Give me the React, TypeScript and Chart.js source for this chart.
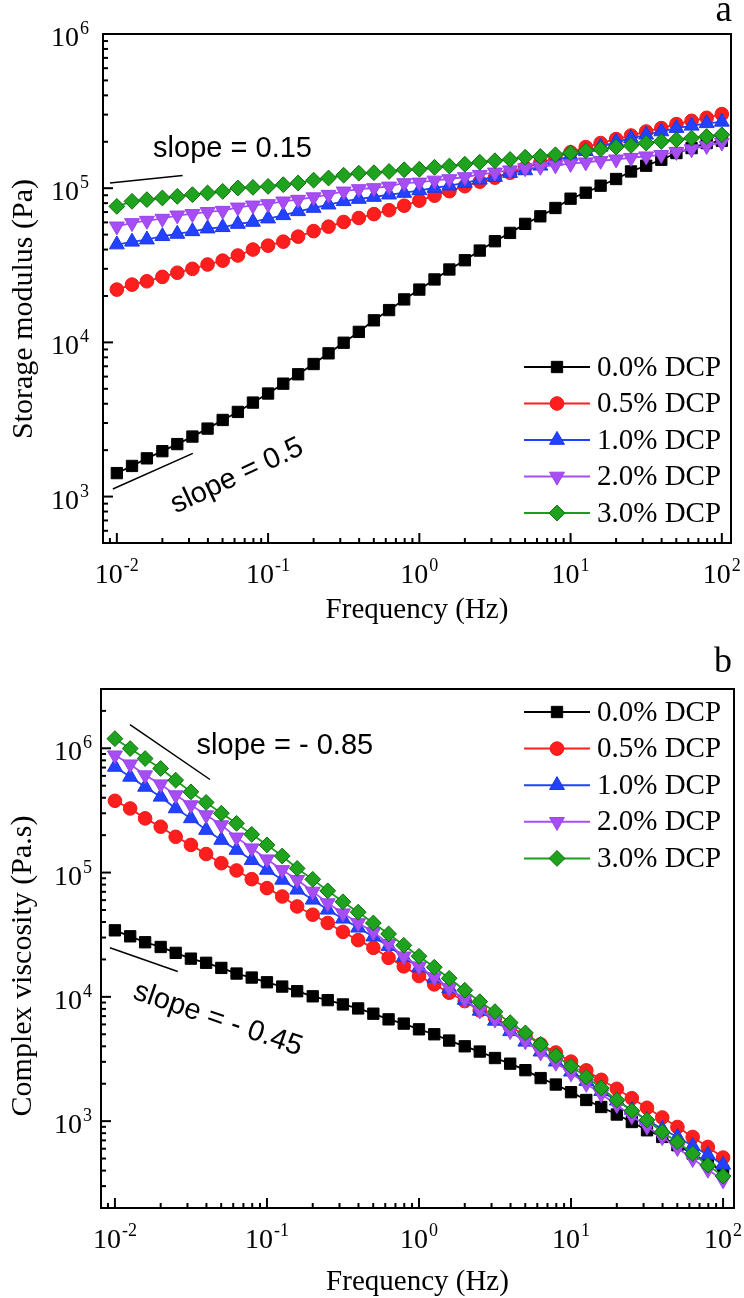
import { useEffect, useRef } from 'react';
import { Chart, registerables, ChartConfiguration, Plugin } from 'chart.js';
import { drawPoint } from 'chart.js/helpers';

Chart.register(...registerables);

// frequency sweep, Hz (10 points per decade)
const frequency = [
  0.01, 0.0126, 0.0158, 0.02, 0.0251, 0.0316, 0.0398, 0.0501, 0.0631, 0.0794,
  0.1, 0.126, 0.158, 0.2, 0.251, 0.316, 0.398, 0.501, 0.631, 0.794,
  1, 1.26, 1.58, 2, 2.51, 3.16, 3.98, 5.01, 6.31, 7.94,
  10, 12.6, 15.8, 20, 25.1, 31.6, 39.8, 50.1, 63.1, 79.4, 100,
];

const seriesLabels = ['0.0% DCP', '0.5% DCP', '1.0% DCP', '2.0% DCP', '3.0% DCP'];

// (a) storage modulus, Pa
const storage00 = [1420, 1580, 1770, 1970, 2190, 2450, 2760, 3140, 3540, 4070, 4660, 5400, 6210, 7240, 8490, 9950, 11700, 13900, 16200, 19000, 22000, 25600, 29700, 34100, 39400, 45300, 51300, 58700, 65700, 74400, 85500, 93500, 103800, 114700, 128400, 139900, 152900, 169000, 182000, 196200, 203000];
const storage05 = [22000, 23700, 24900, 26600, 28300, 30000, 32000, 33900, 36600, 40000, 42400, 45000, 48500, 52700, 56300, 60400, 64100, 67900, 72000, 77000, 83000, 89400, 95600, 103000, 110200, 117000, 126000, 135700, 146200, 157600, 171000, 184800, 196200, 208200, 219600, 233200, 245300, 260300, 273500, 286000, 302200];
const storage10 = [43100, 44900, 46400, 48800, 50500, 52500, 54700, 55800, 58600, 60400, 63500, 66700, 70800, 74400, 78200, 82200, 85100, 87700, 90800, 93100, 96800, 100300, 103800, 108100, 113500, 118200, 125400, 130400, 139800, 150700, 162300, 173500, 185600, 200000, 210700, 222000, 233200, 245300, 253800, 263500, 269400];
const storage20 = [56600, 59500, 61600, 63500, 66700, 68100, 70200, 71500, 75100, 77400, 79000, 82200, 84300, 87500, 90800, 95400, 98800, 100300, 102700, 108100, 109000, 112300, 114700, 118200, 122300, 126600, 130800, 135100, 137800, 140900, 144100, 147300, 150700, 154000, 157600, 161100, 164700, 172200, 179300, 188400, 197900];
const storage30 = [76200, 82200, 84300, 86400, 88500, 90800, 93100, 95400, 100300, 101200, 102700, 105400, 108100, 112700, 116400, 121400, 125100, 126000, 128400, 131700, 132700, 136700, 139200, 143000, 147300, 150700, 153600, 158700, 160600, 164700, 169700, 174800, 179300, 184800, 189300, 196200, 200900, 206100, 211300, 216400, 222000];

// (b) complex viscosity, Pa.s
const viscosity00 = [34300, 30700, 27500, 25200, 22600, 20300, 18800, 17100, 15400, 14300, 13100, 12100, 11100, 10100, 9410, 8690, 8070, 7320, 6590, 6090, 5480, 5000, 4450, 4000, 3630, 3220, 2900, 2570, 2220, 1970, 1710, 1480, 1300, 1130, 984, 844, 746, 640, 548, 461, 398];
const viscosity05 = [378000, 328000, 273000, 234000, 194000, 167000, 141000, 119000, 104000, 88500, 75000, 64200, 53400, 45800, 39300, 33300, 28600, 24800, 20600, 17600, 14700, 12600, 10800, 9240, 7780, 6800, 5720, 4930, 4150, 3570, 3010, 2560, 2150, 1820, 1530, 1280, 1070, 897, 746, 620, 509];
const viscosity10 = [708000, 589000, 489000, 407000, 328000, 273000, 220000, 183000, 152000, 126000, 105000, 87400, 72700, 60400, 50200, 42500, 36000, 30500, 25600, 20900, 17200, 14200, 11700, 9440, 7710, 6410, 5280, 4350, 3620, 3010, 2500, 2100, 1740, 1460, 1230, 1020, 864, 746, 631, 535, 445];
const viscosity20 = [879000, 744000, 608000, 514000, 420000, 349000, 290000, 241000, 192000, 157000, 128000, 105000, 87400, 70400, 56800, 47100, 39300, 33300, 26700, 21200, 17600, 14400, 11800, 9530, 7780, 6590, 5310, 4410, 3580, 2960, 2430, 2000, 1650, 1350, 1100, 905, 746, 609, 497, 408, 335];
const viscosity30 = [1196000, 995000, 827000, 688000, 554000, 446000, 367000, 300000, 249000, 203000, 167000, 136000, 108000, 88200, 71300, 58200, 48000, 39300, 32100, 26000, 21200, 17300, 14100, 11300, 9140, 7600, 6200, 5130, 4150, 3360, 2770, 2260, 1850, 1480, 1210, 1020, 818, 680, 548, 442, 361];

// slope guide lines: [frequency, value] end points, label centre, label angle (deg)
const storageSlopeLow = { from: [0.009, 108000], to: [0.0272, 121000], text: 'slope = 0.15', at: [0.0582, 180000], angle: 0 };
const storageSlopeHigh = { from: [0.00941, 1120], to: [0.0318, 1905], text: 'slope = 0.5', at: [0.0624, 1358], angle: -25 };
const viscositySlopeHigh = { from: [0.01256, 1550000], to: [0.0422, 561000], text: 'slope = - 0.85', at: [0.1312, 1047000], angle: 0 };
const viscositySlopeLow = { from: [0.00927, 24800], to: [0.0259, 16000], text: 'slope = - 0.45', at: [0.0476, 6590], angle: 19 };

const SERIF = '"Liberation Serif", "Times New Roman", serif';
const SANS = '"Liberation Sans", Arial, sans-serif';
const WIDTH = 744;

const lineColors = ['#000000', '#ff1e1e', '#2242ff', '#a64ef4', '#1b9e1b'];
const fillColors = ['#000000', '#ff1e1e', '#2242ff', '#a64ef4', '#1fa31f'];
const edgeColors = ['#000000', '#f01818', '#1a36e6', '#9a44ea', '#0d6e0d'];
const pointStyles = ['rect', 'circle', 'triangle', 'triangle', 'rectRot'];
const pointRotations = [0, 0, 0, 180, 0];
const pointRadii = [8, 6.8, 8.6, 8.6, 7.9];

interface SlopeNote {
  from: number[];
  to: number[];
  text: string;
  at: number[];
  angle: number;
}

interface PanelSpec {
  height: number;
  area: { left: number; top: number; right: number; bottom: number };
  xRange: [number, number];
  yRange: [number, number];
  series: number[][];
  xTitleBaseline: number;
  yTitle: string;
  yTitleX: number;
  yTitleY: number;
  yLabelGap: number;
  letter: string;
  letterBaseline: number;
  letterSize: number;
  legendTop: number;
  legendStep: number;
  notes: SlopeNote[];
}

const storagePanel: PanelSpec = {
  height: 640,
  area: { left: 103, top: 34, right: 731, bottom: 543 },
  xRange: [0.0081, 115],
  yRange: [500, 1e6],
  series: [storage00, storage05, storage10, storage20, storage30],
  xTitleBaseline: 618,
  yTitle: 'Storage modulus (Pa)',
  yTitleX: 32,
  yTitleY: 309,
  yLabelGap: 14,
  letter: 'a',
  letterBaseline: 21,
  letterSize: 37,
  legendTop: 367,
  legendStep: 36.5,
  notes: [storageSlopeLow, storageSlopeHigh],
};

const viscosityPanel: PanelSpec = {
  height: 658,
  area: { left: 101, top: 49, right: 734, bottom: 568 },
  xRange: [0.0081, 118],
  yRange: [200, 3e6],
  series: [viscosity00, viscosity05, viscosity10, viscosity20, viscosity30],
  xTitleBaseline: 650,
  yTitle: 'Complex viscosity (Pa.s)',
  yTitleX: 31,
  yTitleY: 326,
  yLabelGap: 9,
  letter: 'b',
  letterBaseline: 32,
  letterSize: 36,
  legendTop: 72,
  legendStep: 36.6,
  notes: [viscositySlopeHigh, viscositySlopeLow],
};

const logTicks = (min: number, max: number) => {
  const out: { v: number; major: boolean; exp: number }[] = [];
  for (let e = Math.floor(Math.log10(min)); e <= Math.ceil(Math.log10(max)); e++) {
    for (let m = 1; m < 10; m++) {
      const v = m * Math.pow(10, e);
      if (v >= min * 0.999 && v <= max * 1.001) out.push({ v, major: m === 1, exp: e });
    }
  }
  return out;
};

// "10" with a raised exponent
const drawPower = (ctx: CanvasRenderingContext2D, exp: number, x: number, baseline: number, align: 'center' | 'right') => {
  const sup = String(exp);
  ctx.font = `28px ${SERIF}`;
  const w1 = ctx.measureText('10').width;
  ctx.font = `18px ${SERIF}`;
  const w2 = ctx.measureText(sup).width;
  const total = w1 + w2 + 1;
  const left = align === 'center' ? x - total / 2 : x - total;
  ctx.textAlign = 'left';
  ctx.textBaseline = 'alphabetic';
  ctx.font = `28px ${SERIF}`;
  ctx.fillText('10', left, baseline);
  ctx.font = `18px ${SERIF}`;
  ctx.fillText(sup, left + w1 + 1, baseline - 12);
};

const decorPlugin = (spec: PanelSpec): Plugin<'line'> => ({
  id: 'decor',
  beforeDraw: (chart) => {
    const { ctx, width, height } = chart;
    ctx.save();
    ctx.fillStyle = '#ffffff';
    ctx.fillRect(0, 0, width, height);
    ctx.restore();
  },
  afterDraw: (chart) => {
    const { ctx, chartArea: a } = chart;
    const xs = chart.scales.x;
    const ys = chart.scales.y;
    ctx.save();
    ctx.strokeStyle = '#000';
    ctx.fillStyle = '#000';

    // frame
    ctx.lineWidth = 2;
    ctx.strokeRect(a.left, a.top, a.right - a.left, a.bottom - a.top);

    // inward ticks + labels
    ctx.lineWidth = 2;
    for (const t of logTicks(spec.xRange[0], spec.xRange[1])) {
      const px = xs.getPixelForValue(t.v);
      ctx.beginPath();
      ctx.moveTo(px, a.bottom);
      ctx.lineTo(px, a.bottom - (t.major ? 10 : 5));
      ctx.stroke();
      if (t.major) drawPower(ctx, t.exp, px, a.bottom + 40, 'center');
    }
    for (const t of logTicks(spec.yRange[0], spec.yRange[1])) {
      const py = ys.getPixelForValue(t.v);
      ctx.beginPath();
      ctx.moveTo(a.left, py);
      ctx.lineTo(a.left + (t.major ? 10 : 5), py);
      ctx.stroke();
      if (t.major) drawPower(ctx, t.exp, a.left - spec.yLabelGap, py + 12, 'right');
    }

    // axis titles
    ctx.font = `29px ${SERIF}`;
    ctx.textAlign = 'center';
    ctx.textBaseline = 'alphabetic';
    ctx.fillText('Frequency (Hz)', (a.left + a.right) / 2, spec.xTitleBaseline);
    ctx.save();
    ctx.translate(spec.yTitleX, spec.yTitleY);
    ctx.rotate(-Math.PI / 2);
    ctx.font = `30px ${SERIF}`;
    ctx.fillText(spec.yTitle, 0, 0);
    ctx.restore();

    // panel letter
    ctx.font = `${spec.letterSize}px ${SERIF}`;
    ctx.textAlign = 'right';
    ctx.fillText(spec.letter, 732, spec.letterBaseline);

    // slope guides
    for (const n of spec.notes) {
      ctx.lineWidth = 1.5;
      ctx.beginPath();
      ctx.moveTo(xs.getPixelForValue(n.from[0]), ys.getPixelForValue(n.from[1]));
      ctx.lineTo(xs.getPixelForValue(n.to[0]), ys.getPixelForValue(n.to[1]));
      ctx.stroke();
      ctx.save();
      ctx.translate(xs.getPixelForValue(n.at[0]), ys.getPixelForValue(n.at[1]));
      ctx.rotate((n.angle * Math.PI) / 180);
      ctx.font = `29px ${SANS}`;
      ctx.textAlign = 'center';
      ctx.textBaseline = 'middle';
      ctx.fillText(n.text, 0, 0);
      ctx.restore();
    }

    // legend
    chart.data.datasets.forEach((_, k) => {
      const y = spec.legendTop + k * spec.legendStep;
      ctx.strokeStyle = lineColors[k];
      ctx.lineWidth = 2;
      ctx.beginPath();
      ctx.moveTo(524, y);
      ctx.lineTo(590, y);
      ctx.stroke();
      ctx.fillStyle = fillColors[k];
      ctx.strokeStyle = edgeColors[k];
      ctx.lineWidth = 1;
      drawPoint(ctx, { pointStyle: pointStyles[k], radius: pointRadii[k], rotation: pointRotations[k], borderWidth: 1 } as any, 557, y);
      ctx.fillStyle = '#000';
      ctx.font = `29px ${SERIF}`;
      ctx.textAlign = 'left';
      ctx.textBaseline = 'middle';
      ctx.fillText(seriesLabels[k], 597, y + 1);
    });

    ctx.restore();
  },
});

const getChartConfig = (spec: PanelSpec): ChartConfiguration<'line'> => ({
  type: 'line',
  data: {
    datasets: spec.series.map((values, k) => ({
      label: seriesLabels[k],
      data: frequency.map((f, i) => ({ x: f, y: values[i] })),
      borderColor: lineColors[k],
      backgroundColor: fillColors[k],
      borderWidth: 1.8,
      tension: 0,
      fill: false,
      pointStyle: pointStyles[k] as any,
      pointRotation: pointRotations[k],
      pointRadius: pointRadii[k],
      pointBackgroundColor: fillColors[k],
      pointBorderColor: edgeColors[k],
      pointBorderWidth: 1,
      order: 5 - k,
    })),
  },
  options: {
    responsive: false,
    animation: false,
    events: [],
    layout: {
      autoPadding: false,
      padding: { left: 0, top: spec.area.top, right: WIDTH - spec.area.right, bottom: 0 },
    },
    plugins: { legend: { display: false }, tooltip: { enabled: false } },
    scales: {
      x: {
        type: 'logarithmic',
        min: spec.xRange[0],
        max: spec.xRange[1],
        ticks: { display: false },
        grid: { display: false },
        border: { display: false },
        afterFit: (s) => {
          s.height = spec.height - spec.area.bottom;
        },
      },
      y: {
        type: 'logarithmic',
        min: spec.yRange[0],
        max: spec.yRange[1],
        ticks: { display: false },
        grid: { display: false },
        border: { display: false },
        afterFit: (s) => {
          s.width = spec.area.left;
        },
      },
    },
  },
  plugins: [decorPlugin(spec)],
});

const Panel = ({ spec }: { spec: PanelSpec }) => {
  const canvasRef = useRef<HTMLCanvasElement>(null);

  useEffect(() => {
    const canvas = canvasRef.current;
    if (!canvas) return;
    const chart = new Chart(canvas, getChartConfig(spec));
    return () => chart.destroy();
  }, [spec]);

  return <canvas ref={canvasRef} width={WIDTH} height={spec.height} style={{ display: 'block' }} />;
};

export default function App() {
  return (
    <div style={{ position: 'absolute', left: 0, top: 0, width: WIDTH, height: 1298, background: '#fff' }}>
      <Panel spec={storagePanel} />
      <Panel spec={viscosityPanel} />
    </div>
  );
}
